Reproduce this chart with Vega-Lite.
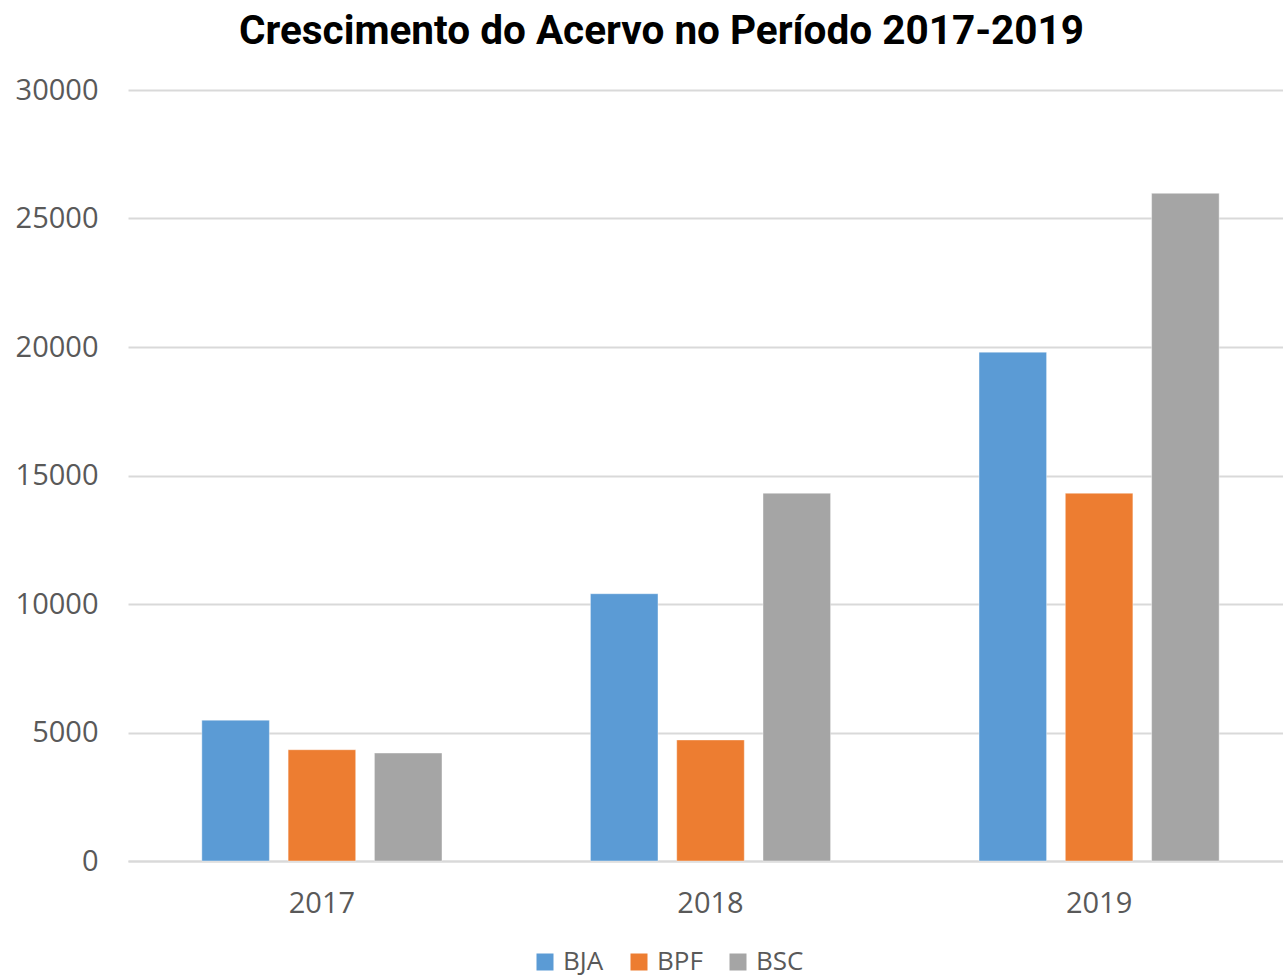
{
  "$schema": "https://vega.github.io/schema/vega-lite/v6.json",
  "autosize": {"type": "none"},
  "width": 1155,
  "height": 771,
  "padding": {"left": 128, "top": 90, "right": 0, "bottom": 116},
  "background": "white",
  "title": {
    "text": "Crescimento do Acervo no Período 2017-2019",
    "font": "Roboto",
    "fontSize": 40.5,
    "fontWeight": "bold",
    "color": "#000000",
    "anchor": "middle",
    "offset": 24,
    "dx": -44
  },
  "data": {
    "values": [
      {"ano": "2017", "biblioteca": "BJA", "acervo": 5480},
      {"ano": "2017", "biblioteca": "BPF", "acervo": 4330},
      {"ano": "2017", "biblioteca": "BSC", "acervo": 4200},
      {"ano": "2018", "biblioteca": "BJA", "acervo": 10400},
      {"ano": "2018", "biblioteca": "BPF", "acervo": 4710},
      {"ano": "2018", "biblioteca": "BSC", "acervo": 14310},
      {"ano": "2019", "biblioteca": "BJA", "acervo": 19800},
      {"ano": "2019", "biblioteca": "BPF", "acervo": 14310},
      {"ano": "2019", "biblioteca": "BSC", "acervo": 25980}
    ]
  },
  "mark": {"type": "bar", "stroke": "white", "strokeWidth": 1, "strokeOpacity": 0.4},
  "encoding": {
    "x": {
      "field": "ano",
      "type": "nominal",
      "scale": {"range": [0, 1165], "paddingInner": 0.382, "paddingOuter": 0.19},
      "axis": {
        "title": null,
        "labelAngle": 0,
        "labelFont": "Open Sans",
        "labelFontSize": 29,
        "labelColor": "#595959",
        "labelPadding": 28,
        "ticks": false,
        "domainColor": "#d9d9d9",
        "domainWidth": 2,
        "grid": false
      }
    },
    "xOffset": {
      "field": "biblioteca",
      "type": "nominal",
      "scale": {"paddingInner": 0.217, "paddingOuter": 0}
    },
    "y": {
      "field": "acervo",
      "type": "quantitative",
      "scale": {"domain": [0, 30000], "nice": false},
      "axis": {
        "title": null,
        "values": [0, 5000, 10000, 15000, 20000, 25000, 30000],
        "format": "d",
        "labelFont": "Open Sans",
        "labelFontSize": 29,
        "labelColor": "#595959",
        "labelPadding": 30,
        "ticks": false,
        "domain": false,
        "gridColor": "#d9d9d9",
        "gridWidth": 2
      }
    },
    "color": {
      "field": "biblioteca",
      "type": "nominal",
      "scale": {"domain": ["BJA", "BPF", "BSC"], "range": ["#5B9BD5", "#ED7D31", "#A5A5A5"]},
      "legend": {
        "title": null,
        "orient": "none",
        "legendX": 404,
        "legendY": 859,
        "direction": "horizontal",
        "symbolType": "square",
        "symbolSize": 289,
        "symbolStrokeWidth": 0,
        "labelFont": "Open Sans",
        "labelFontSize": 26,
        "labelColor": "#595959",
        "labelOffset": 5,
        "columnPadding": 22
      }
    }
  },
  "config": {"view": {"stroke": null}}
}
